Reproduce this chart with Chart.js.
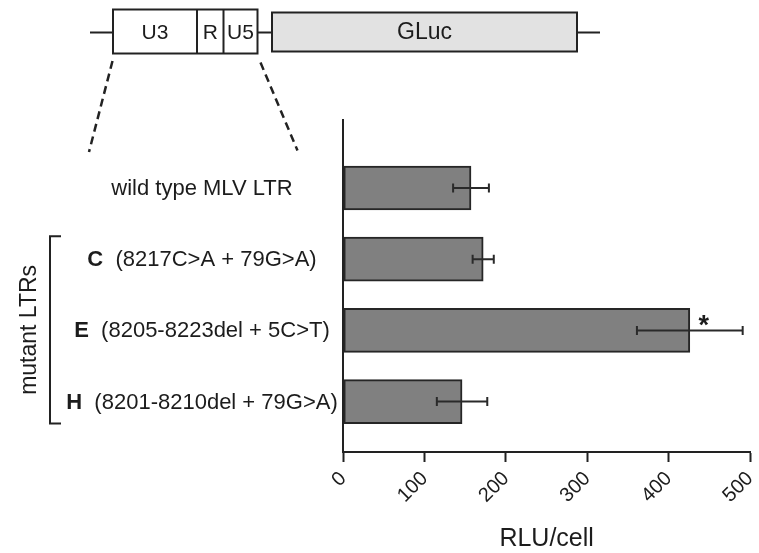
<!DOCTYPE html>
<html>
<head>
<meta charset="utf-8">
<script src="https://cdn.jsdelivr.net/npm/chart.js@4/dist/chart.umd.min.js"></script>
<style>
  html, body { margin: 0; padding: 0; background: #fff; }
  canvas { display: block; }
</style>
</head>
<body>
<canvas id="c" width="759" height="553"></canvas>
<script>
// ---- data ----
const labelBold = ['', 'C', 'E', 'H'];
const labelText = ['wild type MLV LTR', '(8217C>A + 79G>A)', '(8205-8223del + 5C>T)', '(8201-8210del + 79G>A)'];
const rluValues = [157, 172, 426, 146];
const rluErrors = [22, 13, 65, 31];
const significance = ['', '', '*', ''];
const xTicks = [0, 100, 200, 300, 400, 500];
const groupLabel = 'mutant LTRs';
const groupMembers = [1, 2, 3];
const axisTitle = 'RLU/cell';
const diagramLabels = ['U3', 'R', 'U5', 'GLuc'];

const FONT = '"Liberation Sans", Arial, Helvetica, sans-serif';
const INK = '#1c1c1c';

const points = rluValues.map((v, i) => ({ x: v, y: i }));

const errorBarPlugin = {
  id: 'errorBars',
  afterDatasetsDraw(chart) {
    const ctx = chart.ctx;
    const xs = chart.scales.x, ys = chart.scales.y;
    ctx.save();
    ctx.strokeStyle = '#2a2a2a';
    ctx.lineWidth = 2;
    rluValues.forEach((v, i) => {
      const y = ys.getPixelForValue(i);
      const x1 = xs.getPixelForValue(v - rluErrors[i]);
      const x2 = xs.getPixelForValue(v + rluErrors[i]);
      ctx.beginPath();
      ctx.moveTo(x1, y); ctx.lineTo(x2, y);
      ctx.moveTo(x1, y - 4.5); ctx.lineTo(x1, y + 4.5);
      ctx.moveTo(x2, y - 4.5); ctx.lineTo(x2, y + 4.5);
      ctx.stroke();
      if (significance[i]) {
        ctx.fillStyle = INK;
        ctx.font = 'bold 27px ' + FONT;
        ctx.textAlign = 'center';
        ctx.textBaseline = 'alphabetic';
        ctx.fillText(significance[i], xs.getPixelForValue(v) + 14, y + 4);
      }
    });
    ctx.restore();
  }
};

const decorPlugin = {
  id: 'decor',
  afterDraw(chart) {
    const ctx = chart.ctx;
    const ys = chart.scales.y;
    ctx.save();
    // category labels
    ctx.fillStyle = INK;
    ctx.textBaseline = 'middle';
    ctx.textAlign = 'left';
    const cx = 202;
    labelText.forEach((t, i) => {
      const y = ys.getPixelForValue(i);
      ctx.font = 'bold 22px ' + FONT;
      const b = labelBold[i];
      const bw = b ? ctx.measureText(b).width : 0;
      ctx.font = '22px ' + FONT;
      const rest = b ? '  ' + t : t;
      const rw = ctx.measureText(rest).width;
      let x = cx - (bw + rw) / 2;
      if (b) {
        ctx.font = 'bold 22px ' + FONT;
        ctx.fillText(b, x, y + 1);
        x += bw;
      }
      ctx.font = '22px ' + FONT;
      ctx.fillText(rest, x, y + 1);
    });
    // bracket
    const first = groupMembers[0], last = groupMembers[groupMembers.length - 1];
    const yTop = ys.getPixelForValue(first) - 23;
    const yBot = ys.getPixelForValue(last) + 22;
    ctx.strokeStyle = '#222';
    ctx.lineWidth = 2;
    ctx.beginPath();
    ctx.moveTo(61, yTop); ctx.lineTo(50, yTop); ctx.lineTo(50, yBot); ctx.lineTo(61, yBot);
    ctx.stroke();
    ctx.save();
    ctx.translate(29, (yTop + yBot) / 2);
    ctx.rotate(-Math.PI / 2);
    ctx.font = '23px ' + FONT;
    ctx.textAlign = 'center';
    ctx.textBaseline = 'middle';
    ctx.fillText(groupLabel, 0, 1);
    ctx.restore();

    // top schematic
    ctx.strokeStyle = '#222';
    ctx.lineWidth = 2;
    ctx.beginPath();
    ctx.moveTo(90, 32.5); ctx.lineTo(113, 32.5);
    ctx.moveTo(257.5, 32.5); ctx.lineTo(272, 32.5);
    ctx.moveTo(577, 32.5); ctx.lineTo(600, 32.5);
    ctx.stroke();
    ctx.fillStyle = '#ffffff';
    ctx.fillRect(113, 9.5, 144.5, 44);
    ctx.strokeRect(113, 9.5, 144.5, 44);
    ctx.beginPath();
    ctx.moveTo(197, 9.5); ctx.lineTo(197, 53.5);
    ctx.moveTo(223.5, 9.5); ctx.lineTo(223.5, 53.5);
    ctx.stroke();
    ctx.fillStyle = '#e2e2e2';
    ctx.fillRect(272, 12.5, 305, 39);
    ctx.strokeRect(272, 12.5, 305, 39);
    ctx.fillStyle = INK;
    ctx.textAlign = 'center';
    ctx.textBaseline = 'middle';
    ctx.font = '21px ' + FONT;
    ctx.fillText(diagramLabels[0], 155, 33);
    ctx.fillText(diagramLabels[1], 210.3, 33);
    ctx.fillText(diagramLabels[2], 240.5, 33);
    ctx.font = '23px ' + FONT;
    ctx.fillText(diagramLabels[3], 424.5, 33);
    // dashed zoom lines
    ctx.setLineDash([8, 5]);
    ctx.lineWidth = 2.5;
    ctx.beginPath();
    ctx.moveTo(112.5, 61); ctx.lineTo(89, 152);
    ctx.moveTo(260.5, 62.5); ctx.lineTo(297.5, 150.5);
    ctx.stroke();
    ctx.restore();
  }
};

new Chart(document.getElementById('c'), {
  type: 'bar',
  data: {
    datasets: [{
      data: points,
      backgroundColor: '#808080',
      borderColor: '#262626',
      borderWidth: 2,
      borderSkipped: false,
      barThickness: 44
    }]
  },
  options: {
    responsive: false,
    animation: false,
    indexAxis: 'y',
    events: [],
    layout: { padding: { top: 120, right: 9, left: 0, bottom: 0 } },
    plugins: { legend: { display: false }, tooltip: { enabled: false } },
    scales: {
      y: {
        type: 'linear',
        reverse: true,
        offset: false,
        min: -0.955,
        max: 3.708,
        grid: { display: false, offset: false },
        ticks: { display: false },
        border: { display: true, color: '#222', width: 2 },
        afterFit(s) { s.width = 343.3; s.paddingTop = 0; s.paddingBottom = 0; }
      },
      x: {
        type: 'linear',
        min: 0,
        max: 500,
        offset: false,
        afterBuildTicks(s) { s.ticks = xTicks.map(v => ({ value: v })); },
        grid: { display: true, drawOnChartArea: false, drawTicks: true, tickLength: 10, tickWidth: 2, tickColor: '#222' },
        border: { display: true, color: '#222', width: 2 },
        ticks: {
          minRotation: 45, maxRotation: 45, padding: 5,
          color: INK,
          font: { family: FONT, size: 20 }
        },
        title: {
          display: true, text: axisTitle, color: INK,
          font: { family: FONT, size: 25 },
          padding: { top: 0, bottom: -1 }
        },
        afterFit(s) { s.height = 101; s.paddingLeft = 0; s.paddingRight = 0; }
      }
    }
  },
  plugins: [errorBarPlugin, decorPlugin]
});
</script>
</body>
</html>
